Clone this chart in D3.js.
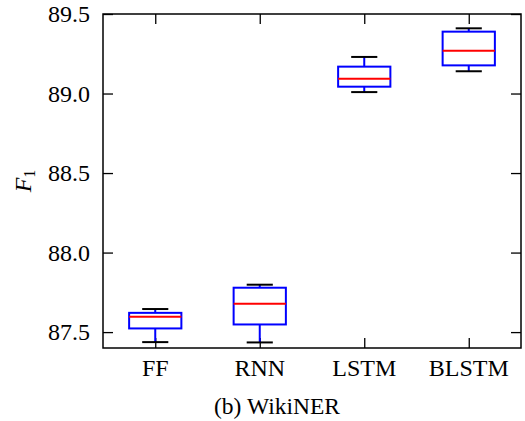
<!DOCTYPE html>
<html>
<head>
<meta charset="utf-8">
<script src="https://cdn.jsdelivr.net/npm/d3@7"></script>
</head>
<body style="margin:0">
<script>
// data
var models = ["FF", "RNN", "LSTM", "BLSTM"];
var whiskerLow = [87.437, 87.435, 89.009, 89.140];
var boxLow     = [87.523, 87.548, 89.043, 89.177];
var medians    = [87.596, 87.678, 89.093, 89.269];
var boxHigh    = [87.621, 87.779, 89.169, 89.389];
var whiskerHigh= [87.645, 87.798, 89.230, 89.410];
var yTicks = [87.5, 88.0, 88.5, 89.0, 89.5];

var data = models.map(function(m, i) {
  return { name: m, pos: i + 1, wlo: whiskerLow[i], q1: boxLow[i], med: medians[i], q3: boxHigh[i], whi: whiskerHigh[i] };
});

var margin = {top: 14, right: 4, bottom: 73, left: 103},
  width = 525 - margin.left - margin.right,
  height = 421 - margin.top - margin.bottom;

var root = d3.select("body").append("svg")
  .attr("width", 525)
  .attr("height", 421);

var svg = root.append("g")
  .attr("transform", "translate(" + margin.left + "," + margin.top + ")");

var x = d3.scaleLinear().domain([0.5, 4.5]).range([0, width]);
var y = d3.scaleLinear().domain([87.4, 89.5]).range([height, 0]);

var tickLen = 10;

// tick marks on all four sides, pointing in
svg.append("g")
  .call(d3.axisLeft(y).tickValues(yTicks).tickFormat("").tickSizeInner(-tickLen).tickSizeOuter(0));
svg.append("g")
  .attr("transform", "translate(" + width + ",0)")
  .call(d3.axisRight(y).tickValues(yTicks).tickFormat("").tickSizeInner(-tickLen).tickSizeOuter(0));
svg.append("g")
  .attr("transform", "translate(0," + height + ")")
  .call(d3.axisBottom(x).tickValues([1, 2, 3, 4]).tickFormat("").tickSizeInner(-tickLen).tickSizeOuter(0));
svg.append("g")
  .call(d3.axisTop(x).tickValues([1, 2, 3, 4]).tickFormat("").tickSizeInner(-tickLen).tickSizeOuter(0));

svg.selectAll(".domain").remove();
svg.selectAll(".tick text").remove();
svg.selectAll(".tick line").attr("stroke", "#000").attr("stroke-width", 1.3);

// frame
svg.append("rect")
  .attr("width", width)
  .attr("height", height)
  .attr("fill", "none")
  .attr("stroke", "#000")
  .attr("stroke-width", 1.5);

// boxes
var boxW = x(1.25) - x(1);
var capW = x(1.125) - x(1);

var g = svg.selectAll(".box")
  .data(data)
  .enter().append("g")
    .attr("class", "box");

// whisker stems
g.append("line")
  .attr("x1", function(d) { return x(d.pos); })
  .attr("x2", function(d) { return x(d.pos); })
  .attr("y1", function(d) { return y(d.wlo); })
  .attr("y2", function(d) { return y(d.q1); })
  .attr("stroke", "#0000ff").attr("stroke-width", 2);
g.append("line")
  .attr("x1", function(d) { return x(d.pos); })
  .attr("x2", function(d) { return x(d.pos); })
  .attr("y1", function(d) { return y(d.q3); })
  .attr("y2", function(d) { return y(d.whi); })
  .attr("stroke", "#0000ff").attr("stroke-width", 2);

// caps
["wlo", "whi"].forEach(function(k) {
  g.append("line")
    .attr("x1", function(d) { return x(d.pos) - capW; })
    .attr("x2", function(d) { return x(d.pos) + capW; })
    .attr("y1", function(d) { return y(d[k]); })
    .attr("y2", function(d) { return y(d[k]); })
    .attr("stroke", "#000").attr("stroke-width", 2);
});

g.append("rect")
  .attr("x", function(d) { return x(d.pos) - boxW; })
  .attr("y", function(d) { return y(d.q3); })
  .attr("width", 2 * boxW)
  .attr("height", function(d) { return y(d.q1) - y(d.q3); })
  .attr("fill", "none")
  .attr("stroke", "#0000ff")
  .attr("stroke-width", 2);

g.append("line")
  .attr("x1", function(d) { return x(d.pos) - boxW; })
  .attr("x2", function(d) { return x(d.pos) + boxW; })
  .attr("y1", function(d) { return y(d.med); })
  .attr("y2", function(d) { return y(d.med); })
  .attr("stroke", "#ff0000").attr("stroke-width", 2);

// labels: plain start-anchored text, placed by measuring the width
var labels = root.append("g");

function label(txt, cx, baseline, size, anchor) {
  var t = labels.append("text")
    .attr("font-family", "Liberation Serif")
    .attr("font-size", size)
    .attr("fill", "#000")
    .attr("y", baseline)
    .text(txt);
  var w = t.node().getComputedTextLength();
  var shift = anchor === "end" ? w : anchor === "middle" ? w / 2 : 0;
  t.attr("x", cx - shift);
  return t;
}

// y tick labels, right edge 13px left of the frame
yTicks.forEach(function(v) {
  label(d3.format(".1f")(v), margin.left - 13, margin.top + y(v) + 8, 24, "end");
});

// x tick labels
models.forEach(function(m, i) {
  label(m, margin.left + x(i + 1), 376, 24, "middle");
});

// caption
label("(b) WikiNER", 277, 414, 23.5, "middle");

// y label, rotated
var yl = labels.append("text")
  .attr("font-family", "Liberation Serif")
  .attr("font-size", 24)
  .attr("fill", "#000");
yl.append("tspan").style("font-style", "italic").text("F");
yl.append("tspan").attr("dy", 4).attr("font-size", 16).text("1");
var ylw = yl.node().getComputedTextLength();
yl.attr("x", -ylw / 2).attr("transform", "translate(31,181) rotate(-90)");
</script>
</body>
</html>
